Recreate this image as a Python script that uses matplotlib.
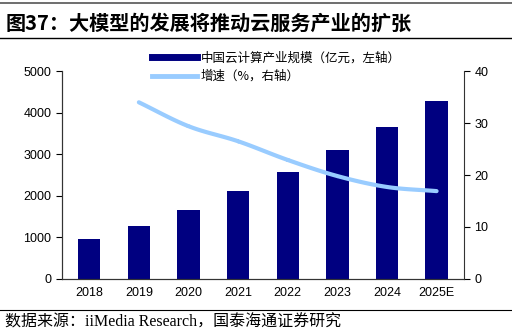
import numpy as np
import matplotlib.pyplot as plt
from matplotlib.lines import Line2D

plt.rcParams['font.family'] = ['Liberation Sans', 'Noto Sans CJK SC', 'DejaVu Sans']

years = ['2018', '2019', '2020', '2021', '2022', '2023', '2024', '2025E']
scale = [950, 1280, 1660, 2110, 2570, 3100, 3650, 4270]
growth = [None, 34.0, 29.4, 26.5, 22.9, 19.8, 17.7, 16.9]

bar_color = '#000080'
line_color = '#99CCFF'

fig = plt.figure(figsize=(5.12, 3.34), dpi=100)
ax = fig.add_axes([0.121, 0.165, 0.785, 0.622])
ax2 = ax.twinx()

x = np.arange(len(years))
ax.bar(x, scale, width=0.45, color=bar_color, zorder=2)
ax.set_ylim(0, 5000)
ax.set_yticks(range(0, 5001, 1000))
ax.set_xlim(-0.55, len(years) - 0.45)
ax.set_xticks(x)
ax.set_xticklabels(years)
ax.tick_params(axis='x', length=0, labelsize=9, pad=6)
ax.tick_params(axis='y', labelsize=9, direction='out', length=4)

# smooth curve drawn through the growth points
gx = np.array([i for i, g in enumerate(growth) if g is not None], dtype=float)
gy = np.array([g for g in growth if g is not None], dtype=float)
px, py = [], []
pts = np.column_stack([gx, gy])
ext = np.vstack([pts[0] * 2 - pts[1], pts, pts[-1] * 2 - pts[-2]])
for i in range(1, len(ext) - 2):
    p0, p1, p2, p3 = ext[i - 1], ext[i], ext[i + 1], ext[i + 2]
    for t in np.linspace(0, 1, 20):
        q = 0.5 * ((2 * p1) + (-p0 + p2) * t + (2 * p0 - 5 * p1 + 4 * p2 - p3) * t ** 2
                   + (-p0 + 3 * p1 - 3 * p2 + p3) * t ** 3)
        px.append(q[0])
        py.append(q[1])
ax2.plot(px, py, color=line_color, lw=3, solid_capstyle='round', zorder=3)
ax2.set_ylim(0, 40)
ax2.set_yticks(range(0, 41, 10))
ax2.tick_params(axis='y', labelsize=9, direction='out', length=4)

for a in (ax, ax2):
    a.spines['top'].set_visible(False)
    for s in ('left', 'right', 'bottom'):
        a.spines[s].set_color('#333333')
ax.spines['right'].set_visible(False)

handles = [Line2D([], [], color=bar_color, lw=5),
           Line2D([], [], color=line_color, lw=3.5)]
labels = ['中国云计算产业规模（亿元，左轴）', '增速（%，右轴）']
fig.legend(handles, labels, loc='upper left', bbox_to_anchor=(0.275, 0.88),
           frameon=False, handlelength=3.6, handletextpad=0.3,
           labelspacing=0.45, prop={'family': ['Noto Sans CJK SC'], 'size': 9})

# title and source
fig.text(0.01, 0.932, '图37：大模型的发展将推动云服务产业的扩张', fontsize=14.5,
         fontweight='bold', family=['Noto Sans CJK SC'], va='center')
fig.add_artist(Line2D([0, 1], [0.99, 0.99], color='#555555', lw=1.2))
fig.add_artist(Line2D([0, 1], [0.887, 0.887], color='black', lw=1))
fig.add_artist(Line2D([0, 1], [0.072, 0.072], color='black', lw=0.8))
fig.text(0.01, 0.035, '数据来源：iiMedia Research，国泰海通证券研究', fontsize=11.5,
         family=['Liberation Serif', 'Noto Sans CJK SC'], va='center')

fig.savefig('out.png', dpi=100)
